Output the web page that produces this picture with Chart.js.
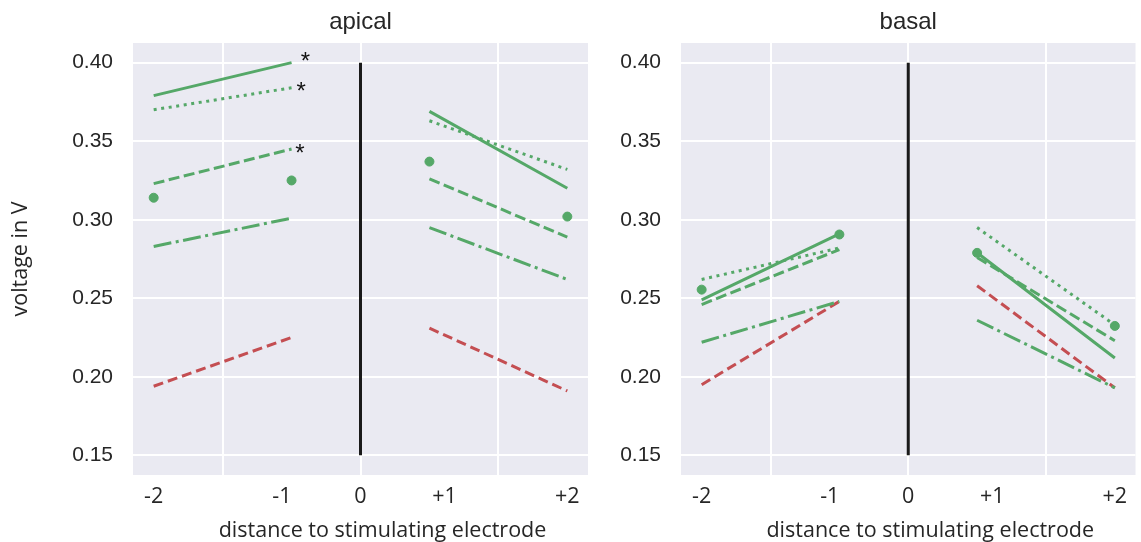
<!DOCTYPE html>
<html>
<head>
<meta charset="utf-8">
<script src="https://cdn.jsdelivr.net/npm/chart.js@4.4.0/dist/chart.umd.min.js"></script>
<style>
  body { margin: 0; background: #fff; }
  #wrap { position: relative; width: 1141px; height: 542px; }
  #apical { position: absolute; left: 0; top: 0; }
  #basal { position: absolute; left: 600px; top: 0; }
</style>
</head>
<body>
<div id="wrap">
  <canvas id="apical" width="600" height="542"></canvas>
  <canvas id="basal" width="541" height="542"></canvas>
</div>
<script>
// positions of the four electrodes (two left, two right of the stimulating one)
const xPos = [-1.5, -0.5, 0.5, 1.5];

// tick labels on x, and where the white grid lines sit
const xTickPos = [-1.5, -0.57, 0, 0.61, 1.5];
const xTickLabels = ['-2', '-1', '0', '+1', '+2'];
const xGridPos = [-1, 0, 1];
const yTicks = [0.15, 0.20, 0.25, 0.30, 0.35, 0.40];

// apical voltages
const apicalSolid   = [0.379, 0.400, 0.369, 0.320];
const apicalDotted  = [0.370, 0.384, 0.363, 0.332];
const apicalDashed  = [0.323, 0.345, 0.326, 0.289];
const apicalDashDot = [0.283, 0.301, 0.295, 0.262];
const apicalRed     = [0.194, 0.225, 0.231, 0.191];
const apicalDots    = [0.314, 0.325, 0.337, 0.302];
// significance stars: [x, y]
const apicalStars = [[-0.40, 0.4035], [-0.43, 0.3845], [-0.44, 0.3449]];

// basal voltages
const basalSolid   = [0.249, 0.291, 0.279, 0.212];
const basalDotted  = [0.262, 0.282, 0.295, 0.233];
const basalDashed  = [0.246, 0.281, 0.276, 0.223];
const basalDashDot = [0.222, 0.248, 0.236, 0.193];
const basalRed     = [0.195, 0.248, 0.258, 0.193];
const basalDots    = [0.2555, 0.2906, 0.2789, 0.2324];

const green = '#55A868';
const red = '#C44E52';
const lblFont = '"Open Sans", "Noto Sans", sans-serif';
const tickFont = '"Liberation Sans", Arial, sans-serif';

// two segments with a gap at 0
function seg(vals) {
    return [
        { x: xPos[0], y: vals[0] }, { x: xPos[1], y: vals[1] },
        { x: 0, y: null },
        { x: xPos[2], y: vals[2] }, { x: xPos[3], y: vals[3] }
    ];
}

function lineSet(vals, color, dash) {
    return {
        data: seg(vals),
        borderColor: color,
        borderWidth: 3,
        borderDash: dash,
        borderCapStyle: 'butt',
        pointRadius: 0,
        spanGaps: false,
        fill: false
    };
}

const panelPlugin = {
    id: 'panel',
    beforeDraw(chart, args, opts) {
        const a = chart.chartArea;
        const c = chart.ctx;
        c.save();
        c.fillStyle = '#EAEAF2';
        c.fillRect(a.left, a.top, a.right - a.left, a.bottom - a.top);
        c.restore();
    },
    afterDraw(chart, args, opts) {
        const a = chart.chartArea;
        const c = chart.ctx;
        const xs = chart.scales.x, ys = chart.scales.y;
        c.save();
        c.fillStyle = '#262626';
        c.textAlign = 'center';
        c.textBaseline = 'alphabetic';
        c.font = '24px ' + tickFont;
        c.fillText(opts.title, (a.left + a.right) / 2, 29);
        c.font = '21.5px ' + lblFont;
        c.fillText('distance to stimulating electrode', (a.left + a.right) / 2 + 22, 537);
        if (opts.ylabel) {
            c.save();
            c.translate(27, (a.top + a.bottom) / 2);
            c.rotate(-Math.PI / 2);
            c.fillText(opts.ylabel, 0, 0);
            c.restore();
        }
        c.fillStyle = '#111';
        c.font = '24px ' + tickFont;
        c.textBaseline = 'middle';
        (opts.stars || []).forEach(s => {
            c.fillText('*', xs.getPixelForValue(s[0]), ys.getPixelForValue(s[1]) + 5);
        });
        c.restore();
    }
};

function makePanel(id, title, ylabel, yWidth, padRight, sets, stars) {
    const datasets = [
        {
            data: [{ x: 0, y: 0.15 }, { x: 0, y: 0.40 }],
            borderColor: '#1a1a1a', borderWidth: 3, pointRadius: 0
        },
        lineSet(sets.solid, green, []),
        lineSet(sets.dotted, green, [3, 4.6]),
        lineSet(sets.dashed, green, [11, 4.5]),
        lineSet(sets.dashdot, green, [18, 4.5, 3, 4.5]),
        lineSet(sets.red, red, [10, 5]),
        {
            type: 'scatter',
            data: xPos.map((x, i) => ({ x: x, y: sets.dots[i] })),
            backgroundColor: green, borderColor: green,
            pointRadius: 4.5, showLine: false
        }
    ];
    return new Chart(document.getElementById(id), {
        type: 'line',
        data: { datasets: datasets },
        options: {
            responsive: false,
            animation: false,
            layout: { padding: { top: 43, right: padRight, left: 0, bottom: 0 } },
            plugins: {
                legend: { display: false },
                tooltip: { enabled: false },
                panel: { title: title, ylabel: ylabel, stars: stars }
            },
            scales: {
                x: {
                    type: 'linear', min: -1.65, max: 1.65,
                    border: { display: false },
                    afterFit: s => { s.height = 67; },
                    afterBuildTicks: s => {
                        const all = [...new Set(xTickPos.concat(xGridPos))].sort((p, q) => p - q);
                        s.ticks = all.map(v => ({ value: v }));
                    },
                    grid: {
                        drawTicks: false,
                        lineWidth: 2,
                        color: ctx => (ctx.tick && xGridPos.includes(ctx.tick.value)) ? '#ffffff' : 'rgba(0,0,0,0)'
                    },
                    ticks: {
                        autoSkip: false, maxRotation: 0, padding: 9,
                        color: '#262626',
                        font: { family: lblFont, size: 21.5 },
                        callback: v => {
                            const i = xTickPos.indexOf(v);
                            return i >= 0 ? xTickLabels[i] : '';
                        }
                    }
                },
                y: {
                    type: 'linear', min: 0.1375, max: 0.4125,
                    border: { display: false },
                    afterFit: s => { s.width = yWidth; },
                    afterBuildTicks: s => { s.ticks = yTicks.map(v => ({ value: v })); },
                    grid: { drawTicks: false, color: '#ffffff', lineWidth: 2 },
                    ticks: {
                        padding: 20, color: '#262626',
                        font: { family: tickFont, size: 21 },
                        callback: v => v.toFixed(2)
                    }
                }
            }
        },
        plugins: [panelPlugin]
    });
}

makePanel('apical', 'apical', 'voltage in V', 133, 12, {
    solid: apicalSolid, dotted: apicalDotted, dashed: apicalDashed,
    dashdot: apicalDashDot, red: apicalRed, dots: apicalDots
}, apicalStars);

makePanel('basal', 'basal', null, 81, 5, {
    solid: basalSolid, dotted: basalDotted, dashed: basalDashed,
    dashdot: basalDashDot, red: basalRed, dots: basalDots
}, []);
</script>
</body>
</html>
